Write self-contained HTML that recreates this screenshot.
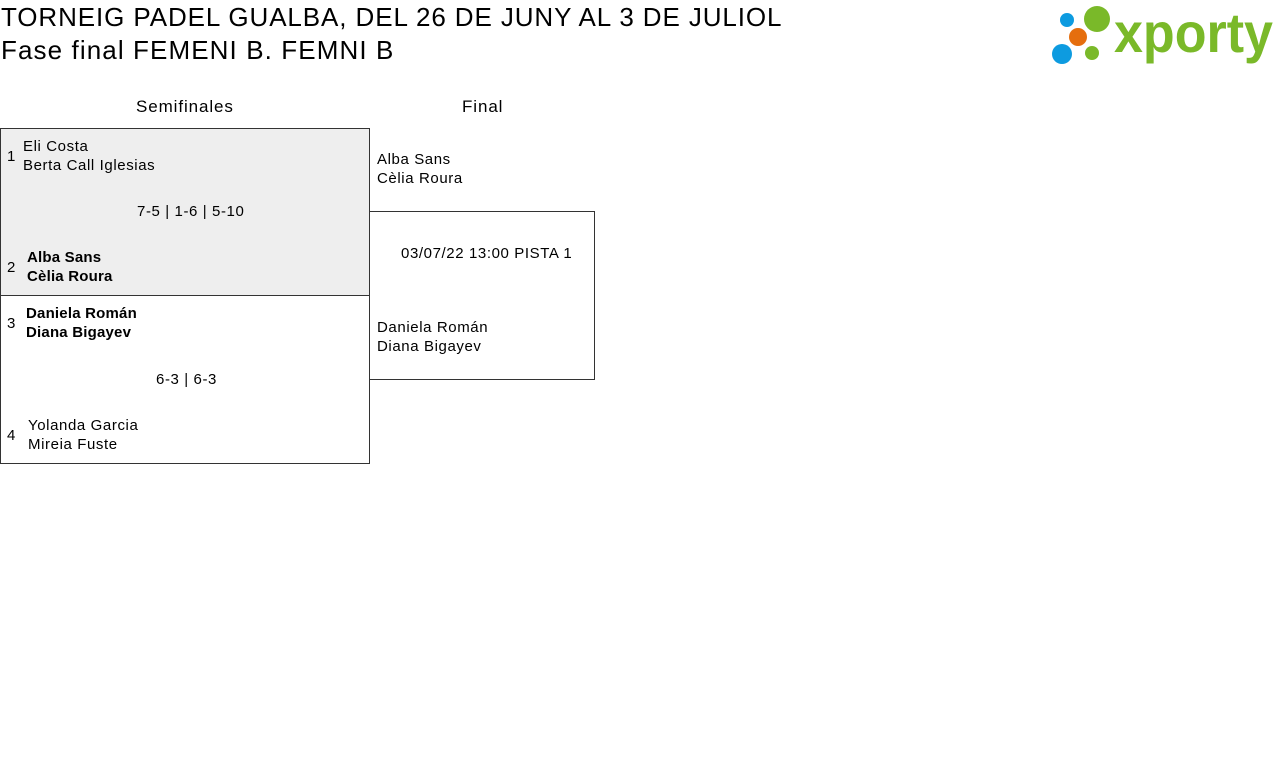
<!DOCTYPE html>
<html><head><meta charset="utf-8"><style>
body{margin:0;width:1280px;height:760px;background:#fff;position:relative;font-family:"Liberation Sans",sans-serif;color:#000;overflow:hidden}
.a{position:absolute;white-space:nowrap}
.t{font-size:26px;letter-spacing:0.9px}
.h{font-size:17px;letter-spacing:0.9px}
.n{font-size:15px;line-height:19px;letter-spacing:0.6px}
.b{font-weight:bold;letter-spacing:0.2px}
.box{position:absolute;border:1px solid #333;box-sizing:border-box}
</style></head><body>
<div class="a t" style="left:1px;top:2px">TORNEIG PADEL GUALBA, DEL 26 DE JUNY AL 3 DE JULIOL</div>
<div class="a t" style="left:1px;top:35px;letter-spacing:1.1px">Fase final FEMENI B. FEMNI B</div>

<svg class="a" style="left:1040px;top:0" width="240" height="75">
<circle cx="27" cy="20" r="7" fill="#0d9be0"/>
<circle cx="57" cy="19" r="13" fill="#7ab929"/>
<circle cx="38" cy="37" r="9" fill="#e56e0e"/>
<circle cx="22" cy="54" r="10" fill="#0d9be0"/>
<circle cx="52" cy="53" r="7" fill="#7ab929"/>
<text x="74" y="52" font-family="Liberation Sans" font-weight="bold" font-size="56" fill="#7ab929" textLength="159" lengthAdjust="spacingAndGlyphs">xporty</text>
</svg>

<div class="a h" style="left:136px;top:97px">Semifinales</div>
<div class="a h" style="left:462px;top:97px">Final</div>

<div class="box" style="left:0;top:128px;width:370px;height:168px;background:#eee"></div>
<div class="box" style="left:0;top:295px;width:370px;height:169px"></div>
<div class="box" style="left:369px;top:211px;width:226px;height:169px"></div>

<div class="a n" style="left:7px;top:147px">1</div>
<div class="a n" style="left:23px;top:137px">Eli Costa<br>Berta Call Iglesias</div>
<div class="a n" style="left:137px;top:202px">7-5 | 1-6 | 5-10</div>
<div class="a n" style="left:7px;top:258px">2</div>
<div class="a n b" style="left:27px;top:248px">Alba Sans<br>Cèlia Roura</div>

<div class="a n" style="left:7px;top:314px">3</div>
<div class="a n b" style="left:26px;top:304px">Daniela Román<br>Diana Bigayev</div>
<div class="a n" style="left:156px;top:370px">6-3 | 6-3</div>
<div class="a n" style="left:7px;top:426px">4</div>
<div class="a n" style="left:28px;top:416px">Yolanda Garcia<br>Mireia Fuste</div>

<div class="a n" style="left:377px;top:150px">Alba Sans<br>Cèlia Roura</div>
<div class="a n" style="left:401px;top:244px">03/07/22 13:00 PISTA 1</div>
<div class="a n" style="left:377px;top:318px">Daniela Román<br>Diana Bigayev</div>
</body></html>
